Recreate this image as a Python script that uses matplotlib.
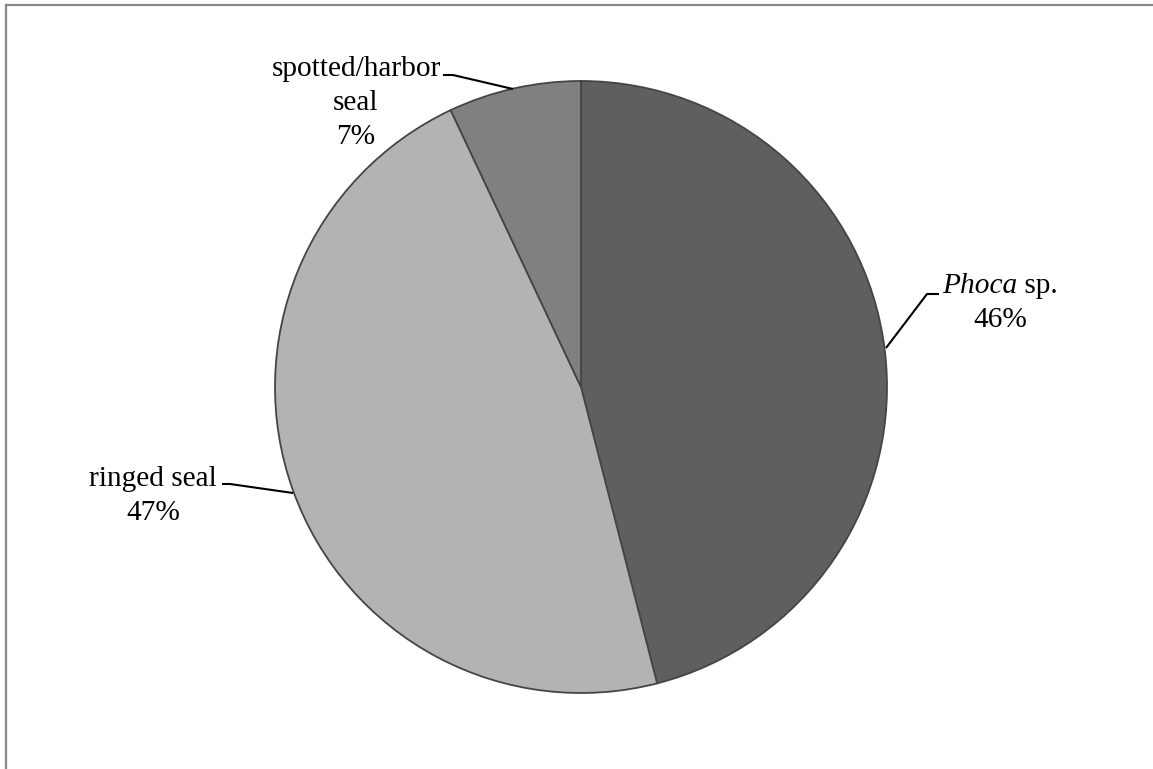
import matplotlib
matplotlib.use("Agg")
import matplotlib.pyplot as plt

# data
categories = ["Phoca sp.", "ringed seal", "spotted/harbor seal"]
values = [46, 47, 7]
pct_labels = ["46%", "47%", "7%"]
colors = ["#5f5f5f", "#b3b3b3", "#808080"]

W, H = 1153, 769
fig = plt.figure(figsize=(W / 100, H / 100), dpi=100)
ax = fig.add_axes([0, 0, 1, 1])
ax.set_xlim(0, W)
ax.set_ylim(0, H)
ax.set_aspect("equal")
ax.axis("off")

def Y(y):
    return H - y

cx, cy, r = 581, 387, 306
ax.pie(values, colors=colors, startangle=90, counterclock=False,
       center=(cx, Y(cy)), radius=r, frame=True,
       wedgeprops=dict(edgecolor="#454545", linewidth=1.3))
ax.set_xlim(0, W)
ax.set_ylim(0, H)
ax.axis("off")

# frame
ax.plot([5.5, W + 5], [Y(4.5), Y(4.5)], color="#888888", lw=1.6, clip_on=False)
ax.plot([5.5, 5.5], [Y(4.5), Y(H + 5)], color="#888888", lw=1.6, clip_on=False)

FS = 21.2
FONT = "Liberation Serif"

# leader lines
leaders = [
    [(886, 348), (927, 294), (939, 294)],
    [(293, 493), (230, 484), (222, 484)],
    [(513, 89), (453, 75), (443, 75)],
]
for pts in leaders:
    ax.plot([p[0] for p in pts], [Y(p[1]) for p in pts], color="black", lw=1.5,
            solid_capstyle="butt")

fig.canvas.draw()
renderer = fig.canvas.get_renderer()

def width_px(s, style="normal"):
    t = ax.text(0, 0, s, fontsize=FS, family=FONT, style=style)
    w = t.get_window_extent(renderer).width
    t.remove()
    return w

line_h = 34

# Phoca label
cxp, by = 1000, 293
w1 = width_px("Phoca", "italic")
w2 = width_px("\u00a0sp.")
x0 = cxp - (w1 + w2) / 2
ax.text(x0, Y(by), "Phoca", fontsize=FS, family=FONT, style="italic", ha="left", va="baseline")
ax.text(x0 + w1, Y(by), "\u00a0sp.", fontsize=FS, family=FONT, ha="left", va="baseline")
ax.text(cxp, Y(by + line_h), pct_labels[0], fontsize=FS, family=FONT, ha="center", va="baseline")

# ringed seal
cxr, byr = 153, 486
ax.text(cxr, Y(byr), "ringed seal", fontsize=FS, family=FONT, ha="center", va="baseline")
ax.text(cxr, Y(byr + line_h), pct_labels[1], fontsize=FS, family=FONT, ha="center", va="baseline")

# spotted/harbor seal
cxs, bys = 356, 76
for i, s in enumerate(["spotted/harbor", "seal", pct_labels[2]]):
    ax.text(cxs, Y(bys + i * line_h), s, fontsize=FS, family=FONT, ha="center", va="baseline")

fig.savefig("out.png", dpi=100)
